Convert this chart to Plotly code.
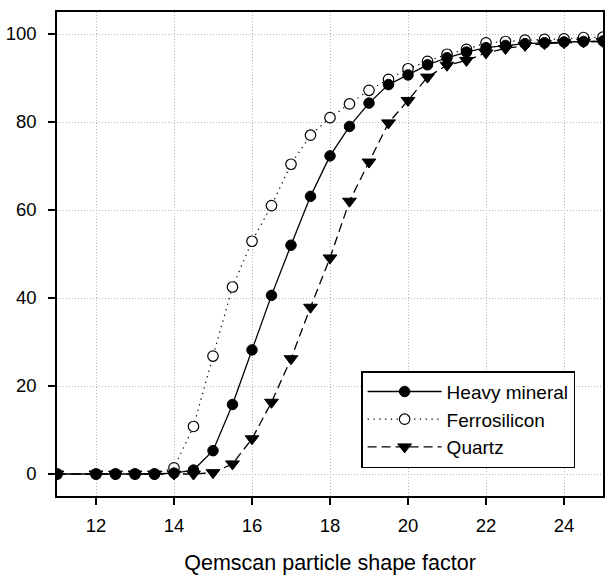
import plotly.graph_objects as go

x_vals = [11, 12, 12.5, 13, 13.5, 14, 14.5, 15, 15.5, 16, 16.5, 17, 17.5, 18, 18.5,
          19, 19.5, 20, 20.5, 21, 21.5, 22, 22.5, 23, 23.5, 24, 24.5, 25]

heavy_mineral = [0, 0, 0, 0, 0, 0.2, 0.9, 5.3, 15.8, 28.2, 40.6, 52.0, 63.1, 72.3, 79.0,
                 84.3, 88.5, 90.7, 93.0, 94.6, 95.9, 96.9, 97.4, 97.8, 98.0, 98.2, 98.3, 98.4]

ferrosilicon = [0, 0, 0, 0, 0, 1.4, 10.8, 26.8, 42.5, 52.9, 61.0, 70.4, 77.0, 81.0, 84.1,
                87.2, 89.7, 92.1, 93.8, 95.4, 96.5, 98.0, 98.3, 98.6, 98.8, 98.9, 99.2, 99.3]

quartz = [0, 0, 0, 0, 0, 0, 0, 0.3, 2.3, 8.0, 16.3, 26.2, 37.9, 49.1, 62.0,
          70.9, 79.8, 84.9, 90.2, 92.9, 94.0, 95.7, 96.7, 97.4, 97.8, 98.0, 98.2, 98.3]

x_ticks = [12, 14, 16, 18, 20, 22, 24]
y_ticks = [0, 20, 40, 60, 80, 100]

FONT = "Liberation Sans, Arial, Helvetica, sans-serif"

fig = go.Figure()

fig.add_trace(go.Scatter(
    x=x_vals, y=ferrosilicon, name="Ferrosilicon", mode="lines+markers",
    line=dict(color="black", width=1.2, dash="1.3px,4.5px"),
    marker=dict(symbol="circle", size=10.5, color="white", line=dict(color="black", width=1.2)),
    legendrank=2,
))
fig.add_trace(go.Scatter(
    x=x_vals, y=quartz, name="Quartz", mode="lines+markers",
    line=dict(color="black", width=1.3, dash="9px,5px"),
    marker=dict(symbol="triangle-down", size=12, color="black", line=dict(color="black", width=1)),
    legendrank=3,
))
fig.add_trace(go.Scatter(
    x=x_vals, y=heavy_mineral, name="Heavy mineral", mode="lines+markers",
    line=dict(color="black", width=1.3),
    marker=dict(symbol="circle", size=10.5, color="black", line=dict(color="black", width=1)),
    legendrank=1,
))

axis_common = dict(
    showline=True, linecolor="black", linewidth=1.5, mirror=True,
    ticks="outside", ticklen=7, tickwidth=1.5, tickcolor="black",
    showgrid=True, gridcolor="#b5b5b5", gridwidth=1, griddash="1px,2px",
    zeroline=False, tickfont=dict(family=FONT, size=18.5, color="black"),
    automargin=False,
)

fig.update_xaxes(range=[11, 25], tickvals=x_ticks, ticktext=[str(v) for v in x_ticks],
                 title=dict(text="Qemscan particle shape factor",
                            font=dict(family=FONT, size=21.5, color="black"), standoff=20),
                 ticklabelstandoff=5, **axis_common)
fig.update_yaxes(range=[-5, 105], tickvals=y_ticks, ticktext=[str(v) for v in y_ticks],
                 ticklabelstandoff=8, **axis_common)

fig.update_layout(
    width=609, height=576,
    margin=dict(l=57, r=6, t=12, b=80),
    paper_bgcolor="white", plot_bgcolor="white",
    showlegend=True,
    legend=dict(
        x=0.557, y=0.258, xanchor="left", yanchor="top",
        bordercolor="black", borderwidth=1.5, bgcolor="white",
        font=dict(family=FONT, size=19, color="black"),
        itemwidth=74, traceorder="normal",
        entrywidth=156, entrywidthmode="pixels",
    ),
    font=dict(family=FONT, color="black"),
)

fig.write_html("out.html", config={"displayModeBar": False},
               post_script="document.body.style.margin='0px';document.body.style.padding='0px';")
